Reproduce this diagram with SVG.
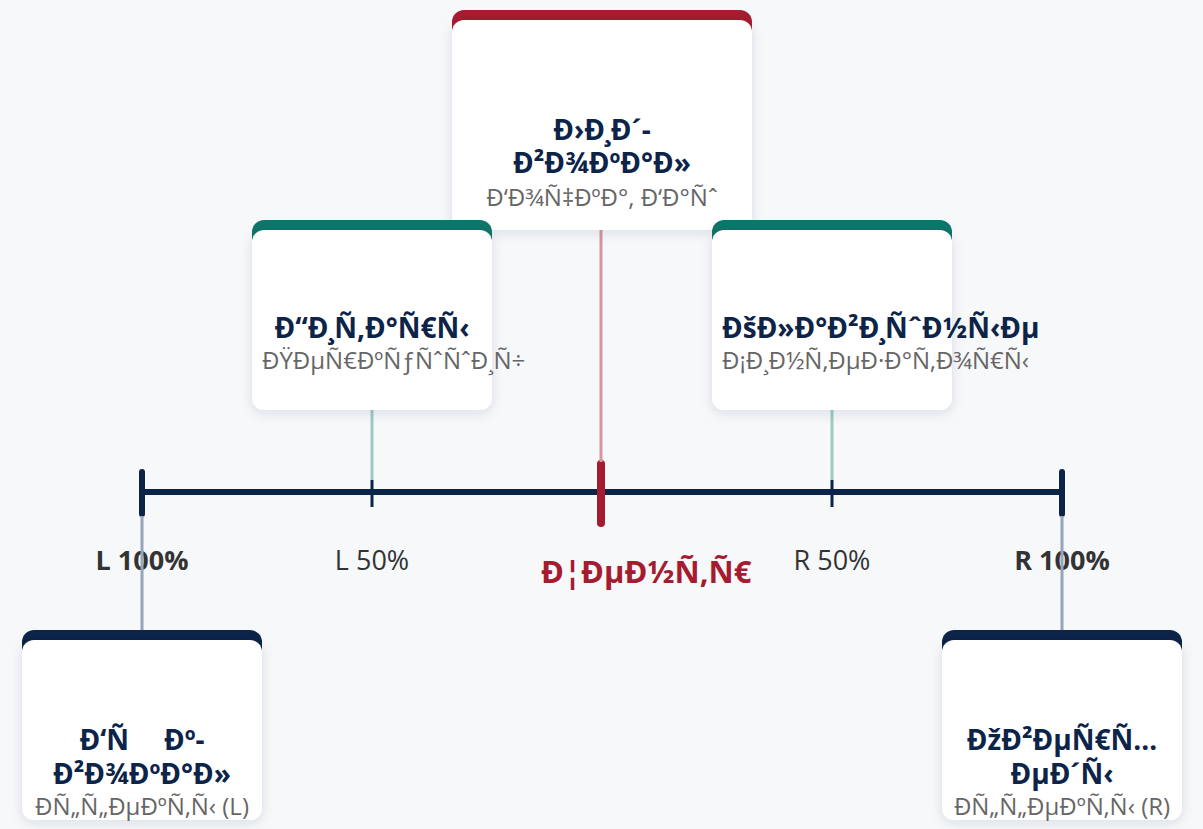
<svg xmlns="http://www.w3.org/2000/svg" width="1203" height="829" viewBox="0 0 1203 829">
<style>
.bg{fill:#f7f8fa}
.card{fill:#ffffff;filter:url(#sh)}
.title{font-family:"Open Sans","Noto Sans",sans-serif;font-weight:700;font-size:28px;fill:#0c2448;text-anchor:middle}
.sub{font-family:"Open Sans","Noto Sans",sans-serif;font-size:24px;fill:#666666;text-anchor:middle}
.st{text-anchor:start}
.lbl{font-family:"Open Sans","Noto Sans",sans-serif;font-size:27px;fill:#333333;text-anchor:middle}
.b{font-weight:700}
.ctr{font-family:"Open Sans","Noto Sans",sans-serif;font-weight:700;font-size:31px;fill:#a51c30}
</style>
<defs>
<filter id="sh" x="-20%" y="-20%" width="140%" height="140%">
<feDropShadow dx="0" dy="3" stdDeviation="6" flood-color="#1a2a44" flood-opacity="0.12"/>
</filter>
</defs>
<rect class="bg" x="0" y="0" width="1203" height="829"/>

<g id="axis">
<line x1="142" y1="492" x2="1062" y2="492" stroke="#0c2448" stroke-width="6"/>
<line x1="142" y1="472" x2="142" y2="514" stroke="#0c2448" stroke-width="6" stroke-linecap="round"/>
<line x1="1062" y1="472" x2="1062" y2="514" stroke="#0c2448" stroke-width="6" stroke-linecap="round"/>
<line x1="372" y1="480" x2="372" y2="507" stroke="#0c2448" stroke-width="3"/>
<line x1="832" y1="480" x2="832" y2="507" stroke="#0c2448" stroke-width="3"/>
<line x1="601" y1="464" x2="601" y2="523" stroke="#a51c30" stroke-width="8" stroke-linecap="round"/>
</g>

<g id="labels">
<text class="lbl b" x="142" y="570">L 100%</text>
<text class="lbl" x="372" y="570">L 50%</text>
<text class="lbl" x="832" y="570">R 50%</text>
<text class="lbl b" x="1062" y="570">R 100%</text>
<text class="ctr" x="541" y="583">Ð¦ÐµÐ½Ñ‚Ñ€</text>
</g>

<g id="connectors" fill="none">
<line x1="601" y1="230" x2="601" y2="462" stroke="#d7959e" stroke-width="3"/>
<line x1="372" y1="410" x2="372" y2="480" stroke="#9ecac5" stroke-width="3"/>
<line x1="832" y1="410" x2="832" y2="480" stroke="#9ecac5" stroke-width="3"/>
<line x1="142" y1="516" x2="142" y2="632" stroke="#97a5b8" stroke-width="3"/>
<line x1="1062" y1="516" x2="1062" y2="632" stroke="#97a5b8" stroke-width="3"/>
</g>

<g id="node-lead">
<rect x="452" y="10" width="300" height="40" rx="12" fill="#a51c30"/>
<rect class="card" x="452" y="20" width="300" height="210" rx="12"/>
<text class="title" x="602" y="140">Ð›Ð¸Ð´-</text>
<text class="title" x="602" y="173">Ð²Ð¾ÐºÐ°Ð»</text>
<text class="sub" x="602" y="206">Ð‘Ð¾Ñ‡ÐºÐ°, Ð‘Ð°Ñˆ</text>
</g>

<g id="node-guitars">
<rect x="252" y="220" width="240" height="40" rx="12" fill="#0e756b"/>
<rect class="card" x="252" y="230" width="240" height="180" rx="12"/>
<text class="title" x="372" y="338">Ð“Ð¸Ñ‚Ð°Ñ€Ñ‹</text>
<text class="sub st" x="262" y="369">ÐŸÐµÑ€ÐºÑƒÑˆÑˆÐ¸Ñ÷</text>
</g>

<g id="node-keys">
<rect x="712" y="220" width="240" height="40" rx="12" fill="#0e756b"/>
<rect class="card" x="712" y="230" width="240" height="180" rx="12"/>
<text class="title st" x="722" y="338">ÐšÐ»Ð°Ð²Ð¸ÑˆÐ½Ñ‹Ðµ</text>
<text class="sub st" x="722" y="369">Ð¡Ð¸Ð½Ñ‚ÐµÐ·Ð°Ñ‚Ð¾Ñ€Ñ‹</text>
</g>

<g id="node-backing">
<rect x="22" y="630" width="240" height="40" rx="12" fill="#0c2448"/>
<rect class="card" x="22" y="640" width="240" height="180" rx="12"/>
<text class="title" x="142" y="750">Ð‘Ñ&#x2003;&#x2005;Ðº-</text>
<text class="title" x="142" y="784">Ð²Ð¾ÐºÐ°Ð»</text>
<text class="sub" x="142" y="815">Ð&#xAD;Ñ„Ñ„ÐµÐºÑ‚Ñ‹ (L)</text>
</g>

<g id="node-overheads">
<rect x="942" y="630" width="240" height="40" rx="12" fill="#0c2448"/>
<rect class="card" x="942" y="640" width="240" height="180" rx="12"/>
<text class="title" x="1062" y="750">ÐžÐ²ÐµÑ€Ñ…</text>
<text class="title" x="1062" y="784">ÐµÐ´Ñ‹</text>
<text class="sub" x="1062" y="815">Ð&#xAD;Ñ„Ñ„ÐµÐºÑ‚Ñ‹ (R)</text>
</g>
</svg>
